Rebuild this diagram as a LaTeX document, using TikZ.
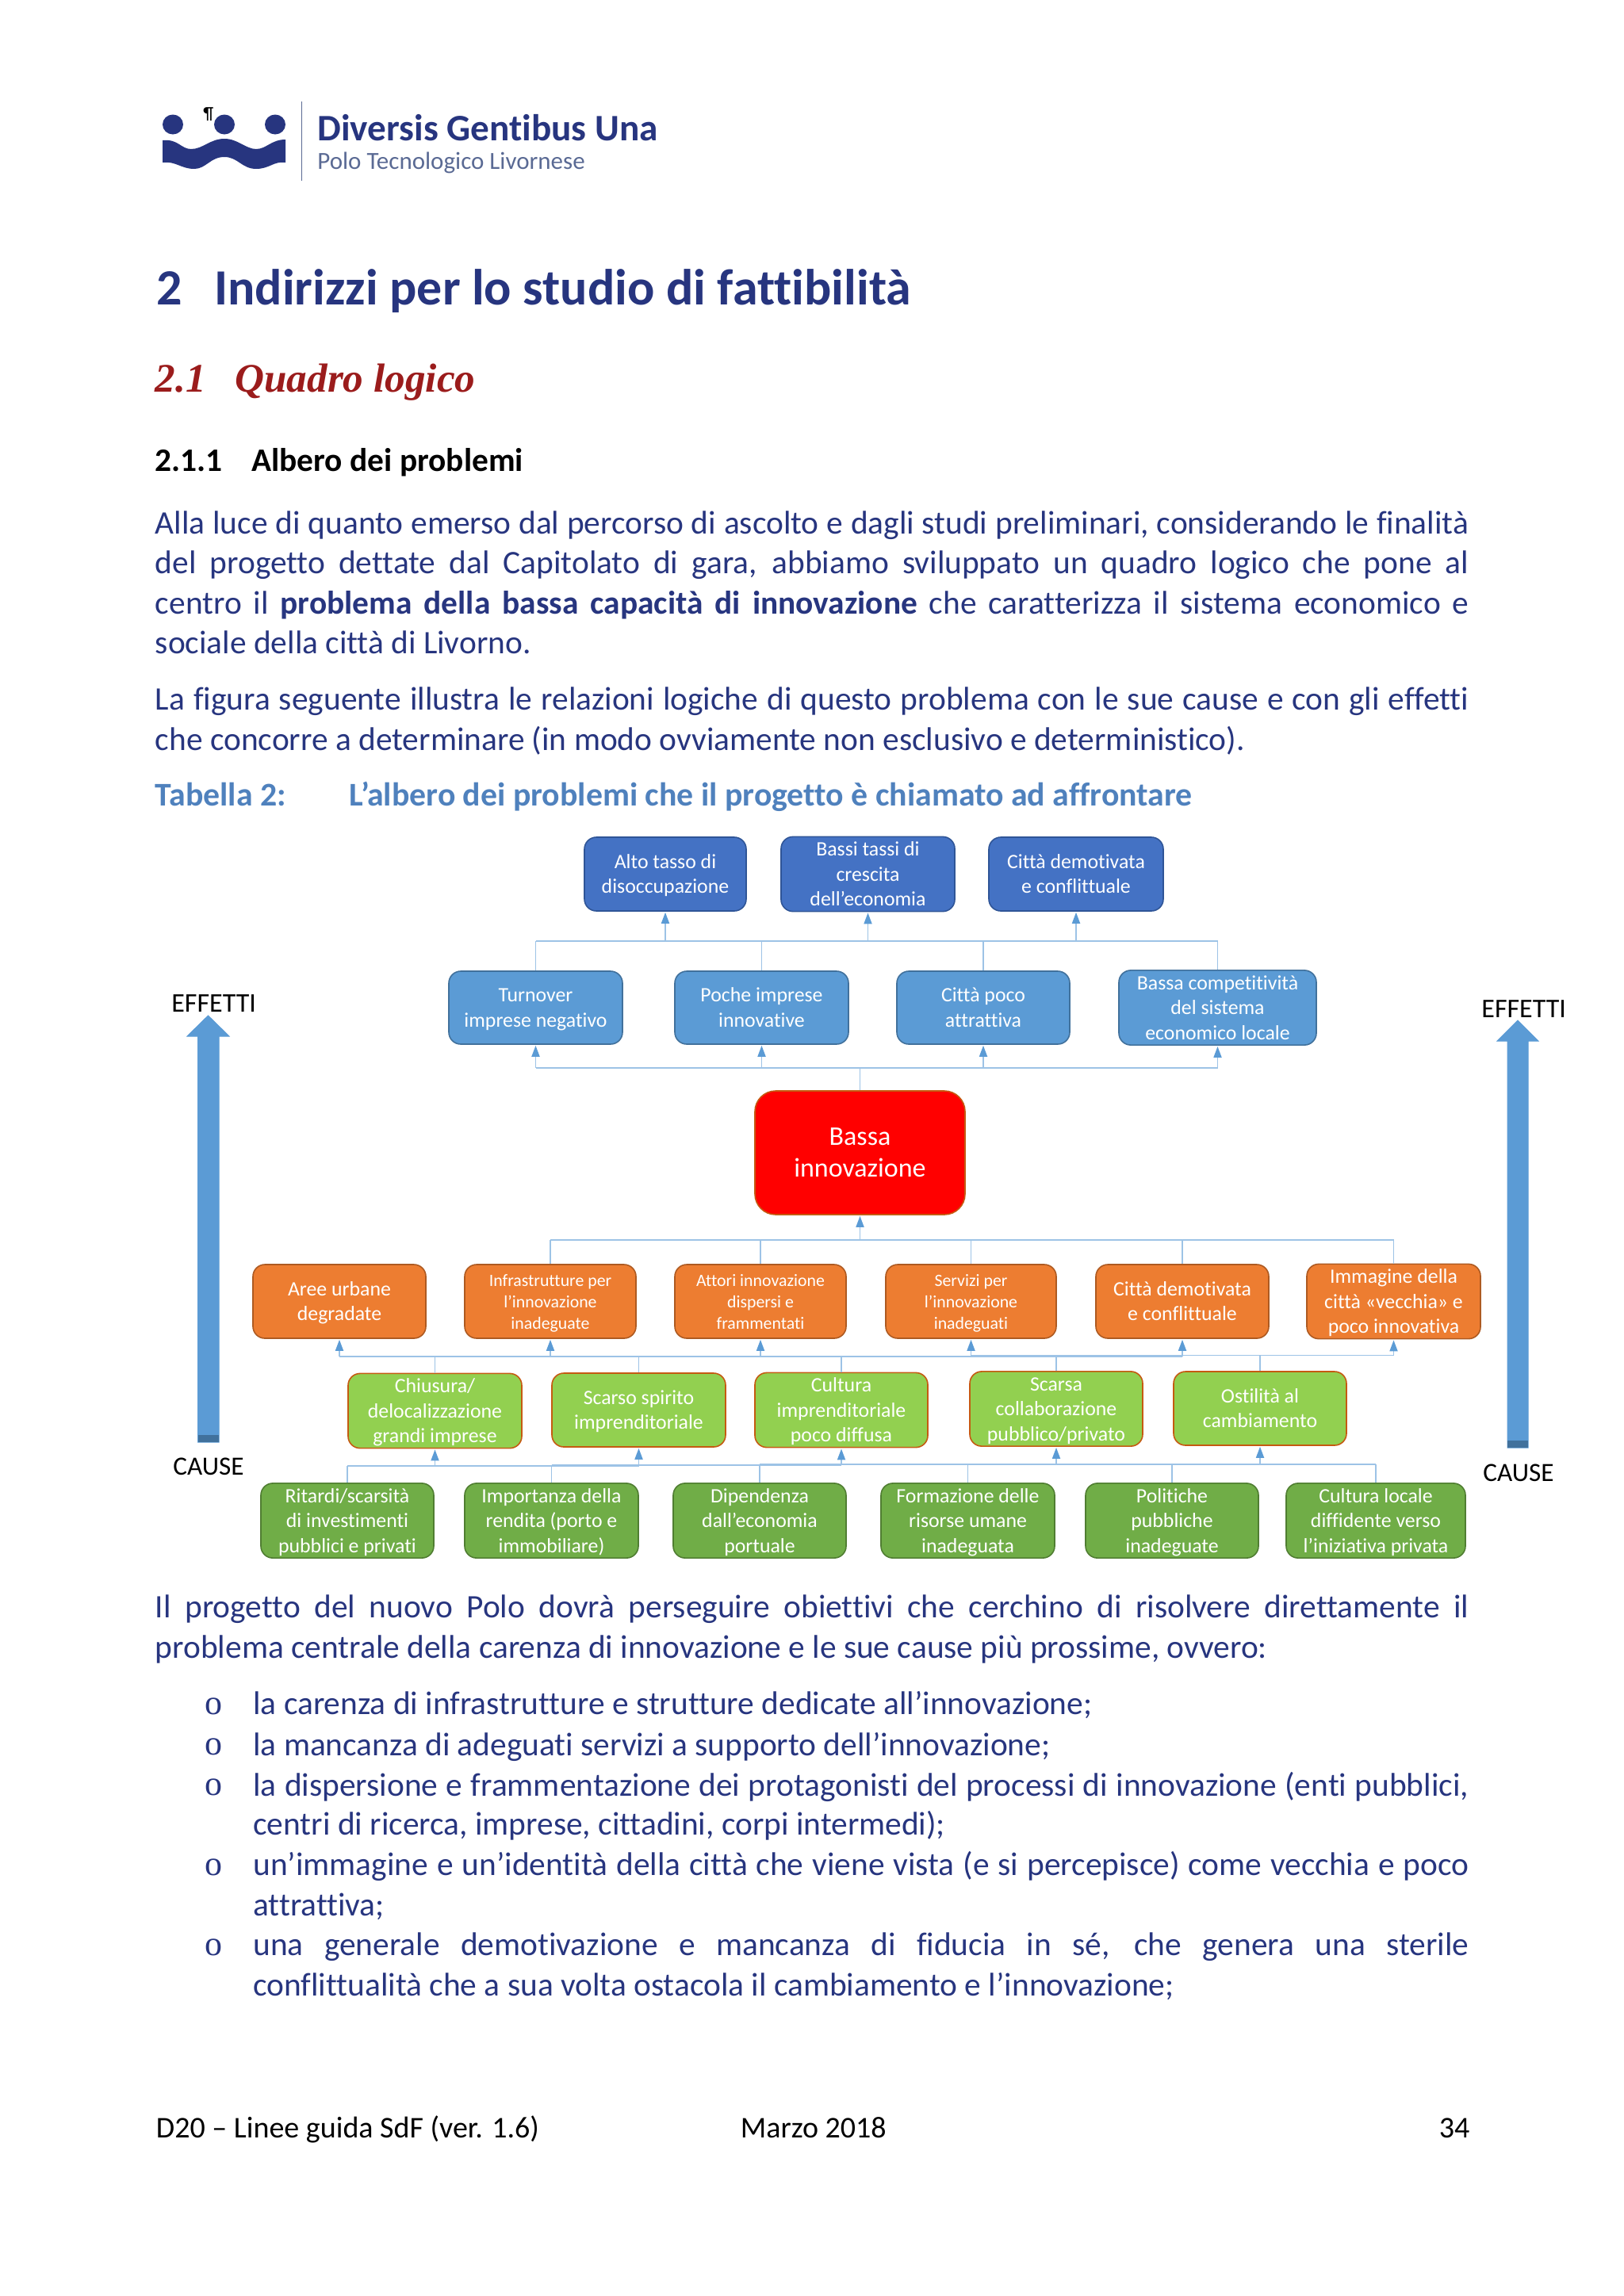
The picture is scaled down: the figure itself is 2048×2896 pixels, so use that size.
\documentclass[tikz,border=0pt]{standalone}
\usepackage{fontspec}
\usetikzlibrary{arrows.meta,calc}
\setmainfont[Ligatures={NoCommon,TeX}]{Carlito}
\newfontfamily\serifhead{Liberation Serif}
\definecolor{navy}{HTML}{27357F}
\definecolor{capblue}{HTML}{4F81BD}
\definecolor{linkblue}{HTML}{9DC3E6}
\definecolor{tipblue}{HTML}{5B9BD5}
\definecolor{logogrey}{HTML}{5A6A94}
\definecolor{headred}{HTML}{9B1C1C}
\definecolor{cTop}{HTML}{4472C4}
\definecolor{cTopL}{HTML}{2F5597}
\definecolor{cMid}{HTML}{5B9BD5}
\definecolor{cMidL}{HTML}{41719C}
\definecolor{cEdgeOr}{HTML}{C55A11}
\definecolor{cOr}{HTML}{ED7D31}
\definecolor{cOrL}{HTML}{AE5A21}
\definecolor{cLg}{HTML}{92D050}
\definecolor{cDg}{HTML}{70AD47}
\definecolor{cDgL}{HTML}{507E32}
\newcommand{\pxfont}[2]{\fontsize{#1}{#2}\selectfont}
\tikzset{
  x=0.5pt,y=-0.5pt,
  box/.style={rectangle,rounded corners=7.5pt,inner sep=0pt,text=white,line width=0.8pt},
  topbox/.style={box,fill=cTop,draw=cTopL,font=\pxfont{12.9}{15.7}},
  midbox/.style={box,fill=cMid,draw=cMidL,font=\pxfont{12.9}{15.7}},
  redbox/.style={box,fill=red,draw=cEdgeOr,rounded corners=13pt,font=\pxfont{17}{20}},
  orbox/.style={box,fill=cOr,draw=cOrL,font=\pxfont{12.9}{15.7}},
  orsmall/.style={orbox,font=\pxfont{10.9}{13.4}},
  lgbox/.style={box,fill=cLg,draw=cEdgeOr,font=\pxfont{12.9}{15.7}},
  dgbox/.style={box,fill=cDg,draw=cDgL,font=\pxfont{12.9}{15.7}},
  link/.style={draw=linkblue,line width=0.9pt},
  arrowlink/.style={link,-{Triangle[length=7pt,width=5pt,color=tipblue,fill=tipblue]},shorten >=0.5pt},
  bigarrow/.style={fill=tipblue,draw=tipblue,line width=0.5pt},
  textline/.style={anchor=base west,inner sep=0pt,yshift=-0.75pt},
  line/.style={textline,text=navy,font=\pxfont{20.7}{25}},
  foot/.style={textline,text=black,font=\pxfont{19}{23}},
  sidelabel/.style={textline,text=black,font=\pxfont{17}{20}},
  causelabel/.style={textline,text=black,font=\pxfont{16.6}{20}},
  bullet/.style={anchor=base,inner sep=0pt,text=navy,font=\serifhead\pxfont{22}{26}},
  h1style/.style={textline,text=navy,font=\bfseries\pxfont{32}{38}},
  h2style/.style={textline,text=headred,font=\serifhead\bfseries\itshape\pxfont{25.6}{30}},
  h3style/.style={textline,text=black,font=\bfseries\pxfont{20.7}{25}},
  capstyle/.style={textline,text=capblue,font=\bfseries\pxfont{20.9}{25}},
}
% name, style, x1, y1, x2, y2, text
\newcommand{\bx}[7]{\node[#2,minimum width={(#5-#3)*0.5pt},minimum height={(#6-#4)*0.5pt}] (#1) at ({(#3+#5)/2},{(#4+#6)/2}) {\raisebox{-1.2pt}[\height][\depth]{\begin{tabular}{@{}c@{}}#7\end{tabular}}};}
\newlength{\jlw}
\newcommand{\jl}[4]{\setlength{\jlw}{#2pt}\setlength{\jlw}{\dimexpr(1852pt-\jlw)/2\relax}\node[line] (#1) at (#2,#3) {\makebox[\jlw][s]{#4}};}
\newcommand{\pl}[4]{\node[line] (#1) at (#2,#3) {#4};}
\begin{document}
\begin{tikzpicture}
\useasboundingbox (0,0) rectangle (2048,2896);
\fill[white] (0,0) rectangle (2048,2896);
% logo
\fill[navy] (218,157) ellipse [x radius=13,y radius=12.5];
\fill[navy] (283,157) ellipse [x radius=13,y radius=12.5];
\fill[navy] (347,157) ellipse [x radius=13,y radius=12.5];
\fill[navy] (205,177) .. controls (225,175) and (228,188) .. (241,188) .. controls (256,188) and (265,175) .. (283,175) .. controls (300,175) and (310,188) .. (323,188) .. controls (336,188) and (342,176) .. (360,176) -- (360,205) .. controls (345,203) and (340,213) .. (323,213) .. controls (305,213) and (300,198) .. (283,198) .. controls (265,198) and (260,213) .. (245,213) .. controls (228,213) and (222,203) .. (205,205) -- cycle;
\draw[logogrey,line width=0.6pt] (380.5,128) -- (380.5,228);
\node[anchor=base west,inner sep=0pt,text=black,font=\pxfont{11}{13}] (pilcrow) at (256,150) {¶};
\node[textline,text=navy,font=\bfseries\pxfont{23.6}{28}] (logoa) at (400,176) {Diversis Gentibus Una};
\node[textline,text=logogrey,font=\pxfont{15.5}{18}] (logob) at (400,212) {Polo Tecnologico Livornese};
% headings
\node[h1style] (h1n) at (197,383) {2};
\node[h1style] (h1) at (270,383) {Indirizzi per lo studio di fattibilità};
\node[h2style] (h2n) at (195.5,493) {2.1};
\node[h2style] (h2) at (296,493) {Quadro logico};
\node[h3style] (h3n) at (195.5,593) {2.1.1};
\node[h3style] (h3) at (317,593) {Albero dei problemi};
% paragraphs
\jl{p1}{195.5}{671.7}{Alla luce di quanto emerso dal percorso di ascolto e dagli studi preliminari, considerando le finalità}
\jl{p2}{195.5}{722}{del progetto dettate dal Capitolato di gara, abbiamo sviluppato un quadro logico che pone al}
\jl{p3}{195.5}{772.7}{centro il \textbf{problema della bassa capacità di innovazione} che caratterizza il sistema economico e}
\pl{p4}{195.5}{823}{sociale della città di Livorno.}
\jl{p5}{195.5}{894}{La figura seguente illustra le relazioni logiche di questo problema con le sue cause e con gli effetti}
\pl{p6}{195.5}{944.5}{che concorre a determinare (in modo ovviamente non esclusivo e deterministico).}
\node[capstyle] (capn) at (195.5,1015) {Tabella 2:};
\node[capstyle] (capt) at (440,1015) {L’albero dei problemi che il progetto è chiamato ad affrontare};
% big arrows
\path[bigarrow] (262.5,1281) -- (289,1307) -- (276,1307) -- (276,1819) -- (249.5,1819) -- (249.5,1307) -- (236,1307) -- cycle;
\fill[cMidL] (249.5,1810) rectangle (276,1819);
\path[bigarrow] (1914,1287) -- (1940,1313) -- (1927,1313) -- (1927,1826) -- (1901,1826) -- (1901,1313) -- (1888,1313) -- cycle;
\fill[cMidL] (1901,1817) rectangle (1927,1826);
\node[sidelabel] (effl) at (216,1275) {EFFETTI};
\node[sidelabel] (effr) at (1868,1282) {EFFETTI};
\node[causelabel] (caul) at (218,1859) {CAUSE};
\node[causelabel] (caur) at (1870,1867) {CAUSE};
% boxes
\bx{t1}{topbox}{737}{1056}{941}{1149}{Alto tasso di\\disoccupazione}
\bx{t2}{topbox}{985}{1056}{1204}{1149}{Bassi tassi di\\crescita\\dell’economia}
\bx{t3}{topbox}{1247}{1056}{1467}{1149}{Città demotivata\\e conflittuale}
\bx{m1}{midbox}{566}{1225}{785}{1317}{Turnover\\imprese negativo}
\bx{m2}{midbox}{851}{1225}{1070}{1317}{Poche imprese\\innovative}
\bx{m3}{midbox}{1131}{1225}{1349}{1317}{Città poco\\attrattiva}
\bx{m4}{midbox}{1411}{1225}{1660}{1317}{Bassa competitività\\del sistema\\economico locale}
\bx{core}{redbox}{952}{1376}{1217}{1532}{Bassa\\innovazione}
\bx{o1}{orbox}{319}{1595}{537}{1688}{Aree urbane\\degradate}
\bx{o2}{orsmall}{586}{1595}{802}{1688}{Infrastrutture per\\l’innovazione\\inadeguate}
\bx{o3}{orsmall}{851}{1595}{1067}{1688}{Attori innovazione\\dispersi e\\frammentati}
\bx{o4}{orsmall}{1117}{1595}{1332}{1688}{Servizi per\\l’innovazione\\inadeguati}
\bx{o5}{orbox}{1382}{1595}{1600}{1688}{Città demotivata\\e conflittuale}
\bx{o6}{orbox}{1648}{1595}{1867}{1688}{Immagine della\\città «vecchia» e\\poco innovativa}
\bx{g1}{lgbox}{439}{1733}{658}{1826}{Chiusura/\\delocalizzazione\\grandi imprese}
\bx{g2}{lgbox}{696}{1732}{915}{1825}{Scarso spirito\\imprenditoriale}
\bx{g3}{lgbox}{952}{1732}{1170}{1825}{Cultura\\imprenditoriale\\poco diffusa}
\bx{g4}{lgbox}{1223}{1731}{1441}{1823}{Scarsa\\collaborazione\\pubblico/privato}
\bx{g5}{lgbox}{1480}{1730}{1698}{1823}{Ostilità al\\cambiamento}
\bx{d1}{dgbox}{329}{1872}{547}{1964}{Ritardi/scarsità\\di investimenti\\pubblici e privati}
\bx{d2}{dgbox}{586}{1872}{805}{1964}{Importanza della\\rendita (porto e\\immobiliare)}
\bx{d3}{dgbox}{849}{1872}{1067}{1964}{Dipendenza\\dall’economia\\portuale}
\bx{d4}{dgbox}{1111}{1872}{1330}{1964}{Formazione delle\\risorse umane\\inadeguata}
\bx{d5}{dgbox}{1369}{1872}{1587}{1964}{Politiche\\pubbliche\\inadeguate}
\bx{d6}{dgbox}{1622}{1872}{1848}{1964}{Cultura locale\\diffidente verso\\l’iniziativa privata}
% bus levels
\coordinate (busA) at (0,1187);
\coordinate (busB) at (0,1347);
\coordinate (busC) at (0,1564);
\coordinate (busD) at (0,1711);
\coordinate (busE) at (0,1709.5);
\coordinate (busF) at (0,1849);
\coordinate (busG) at (0,1848);
\coordinate (busH) at (0,1847);
% middle row -> top row
\draw[link] (m1 |- busA) -- (m4 |- busA);
\foreach \n in {m1,m2,m3,m4} \draw[link] (\n.north) -- (\n |- busA);
\foreach \n in {t1,t2,t3} \draw[arrowlink] (\n |- busA) -- (\n.south);
% core -> middle row
\draw[link] (m1 |- busB) -- (m4 |- busB);
\draw[link] (core.north) -- (core |- busB);
\foreach \n in {m1,m2,m3,m4} \draw[arrowlink] (\n |- busB) -- (\n.south);
% orange row -> core
\draw[link] (o2 |- busC) -- (o6 |- busC);
\foreach \n in {o2,o3,o4,o5,o6} \draw[link] (\n.north) -- (\n |- busC);
\draw[arrowlink] (core |- busC) -- (core.south);
% light green -> orange
\draw[link] (o1 |- busD) -- (o5 |- busD);
\draw[link] (o4 |- busE) -- (o6 |- busE);
\foreach \n in {g1,g2,g3} \draw[link] (\n.north) -- (\n |- busD);
\foreach \n in {g4,g5} \draw[link] (\n.north) -- (\n |- busE);
\foreach \n in {o1,o2,o3,o4,o5} \draw[arrowlink] (\n |- busD) -- (\n.south);
\draw[arrowlink] (o6 |- busE) -- (o6.south);
% dark green -> light green
\draw[link] (d1 |- busF) -- (g2 |- busF);
\draw[link] (d2 |- busG) -- (g3 |- busG);
\draw[link] (d3 |- busH) -- (d6 |- busH);
\draw[link] (d1.north) -- (d1 |- busF);
\draw[link] (d2.north) -- (d2 |- busG);
\foreach \n in {d3,d4,d5,d6} \draw[link] (\n.north) -- (\n |- busH);
\draw[arrowlink] (g1 |- busF) -- (g1.south);
\draw[arrowlink] (g2 |- busF) -- (g2.south);
\draw[arrowlink] (g3 |- busG) -- (g3.south);
\draw[arrowlink] (g4 |- busH) -- (g4.south);
\draw[arrowlink] (g5 |- busH) -- (g5.south);
% text below
\jl{q1}{195.5}{2038.5}{Il progetto del nuovo Polo dovrà perseguire obiettivi che cerchino di risolvere direttamente il}
\pl{q2}{195.5}{2090}{problema centrale della carenza di innovazione e le sue cause più prossime, ovvero:}
\node[bullet] (b1) at (269,2162) {o};
\node[bullet] (b2) at (269,2213) {o};
\node[bullet] (b3) at (269,2264) {o};
\node[bullet] (b4) at (269,2365) {o};
\node[bullet] (b5) at (269,2466) {o};
\pl{r1}{319}{2161}{la carenza di infrastrutture e strutture dedicate all’innovazione;}
\pl{r2}{319}{2212.5}{la mancanza di adeguati servizi a supporto dell’innovazione;}
\jl{r3}{319}{2263.5}{la dispersione e frammentazione dei protagonisti del processi di innovazione (enti pubblici,}
\pl{r4}{319}{2313}{centri di ricerca, imprese, cittadini, corpi intermedi);}
\jl{r5}{319}{2364}{un’immagine e un’identità della città che viene vista (e si percepisce) come vecchia e poco}
\pl{r6}{319}{2414.6}{attrattiva;}
\jl{r7}{319}{2465}{una generale demotivazione e mancanza di fiducia in sé, che genera una sterile}
\pl{r8}{319}{2516}{conflittualità che a sua volta ostacola il cambiamento e l’innovazione;}
% footer
\node[foot] (fa) at (196.5,2695) {D20 – Linee guida SdF (ver. 1.6)};
\node[foot] (fb) at (933.5,2695) {Marzo 2018};
\node[foot] (fc) at (1814.5,2695) {34};
\end{tikzpicture}
\end{document}
